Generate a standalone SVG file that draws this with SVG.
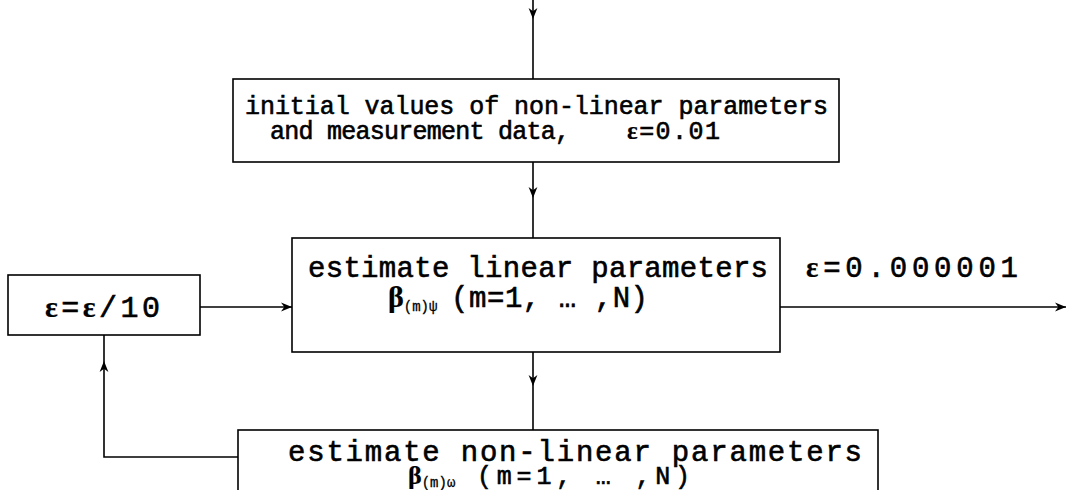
<svg xmlns="http://www.w3.org/2000/svg" width="1066" height="490" viewBox="0 0 1066 490">
  <style>
    .box { fill: #fff; stroke: #000; stroke-width: 1.6; }
    .wire { fill: none; stroke: #000; stroke-width: 1.6; }
    .t { font-family: "Liberation Mono", "DejaVu Sans Mono", monospace; fill: #000; stroke: #000; stroke-width: 0.6; }
    .g { font-family: "Liberation Serif", "DejaVu Serif", serif; font-weight: bold; stroke-width: 0.2; }
    .sub { font-size: 14px; stroke-width: 0.3; }
  </style>
  <defs>
    <marker id="ah" viewBox="0 0 10 10" refX="10" refY="5" markerWidth="11" markerHeight="11" markerUnits="userSpaceOnUse" orient="auto">
      <path d="M0,1 L10,5 L0,9 L3,5 Z" fill="#000"/>
    </marker>
  </defs>

  <!-- connectors -->
  <g id="connectors">
    <!-- entry from above -->
    <path class="wire" d="M533,0 V19" marker-end="url(#ah)"/>
    <path class="wire" d="M533,19 V79"/>
    <!-- initial values -> linear estimate -->
    <path class="wire" d="M533,162 V198" marker-end="url(#ah)"/>
    <path class="wire" d="M533,198 V238"/>
    <!-- epsilon update -> linear estimate -->
    <path class="wire" d="M200,307 H292" marker-end="url(#ah)"/>
    <!-- exit, converged -->
    <path class="wire" d="M780,307 H1066" marker-end="url(#ah)"/>
    <!-- linear -> non-linear estimate -->
    <path class="wire" d="M533,352 V386" marker-end="url(#ah)"/>
    <path class="wire" d="M533,386 V430"/>
    <!-- feedback loop -->
    <path class="wire" d="M238,457 H104 V361" marker-end="url(#ah)"/>
    <path class="wire" d="M104,361 V335"/>
  </g>

  <g id="init">
    <rect class="box" x="233" y="79" width="606" height="83"/>
    <text class="t" x="245" y="114" font-size="25" textLength="583" lengthAdjust="spacing">initial values of non-linear parameters</text>
    <text class="t" x="270" y="139" font-size="25" textLength="300" lengthAdjust="spacing">and measurement data,</text>
    <text class="t" x="627" y="139" font-size="25" textLength="93" lengthAdjust="spacing"><tspan class="g">ε</tspan>=0.01</text>
  </g>

  <g id="linear">
    <rect class="box" x="292" y="238" width="488" height="114"/>
    <text class="t" x="308" y="277" font-size="29" textLength="460" lengthAdjust="spacing">estimate linear parameters</text>
    <text class="t" x="388" y="307" font-size="30"><tspan class="g">β</tspan><tspan class="sub" dy="4">(m)ψ</tspan></text>
    <text class="t" x="451" y="307" font-size="29" textLength="197" lengthAdjust="spacing">(m=1, … ,N)</text>
  </g>

  <g id="eps-update">
    <rect class="box" x="8" y="275" width="192" height="60"/>
    <text class="t" x="45" y="317" font-size="30" textLength="115" lengthAdjust="spacing"><tspan class="g">ε</tspan>=<tspan class="g">ε</tspan>/10</text>
  </g>

  <g id="eps-final">
    <text class="t" x="806" y="277" font-size="29" textLength="212" lengthAdjust="spacing"><tspan class="g">ε</tspan>=0.000001</text>
  </g>

  <g id="nonlinear">
    <rect class="box" x="238" y="430" width="640" height="80"/>
    <text class="t" x="288" y="461" font-size="29" textLength="574" lengthAdjust="spacing">estimate non-linear parameters</text>
    <text class="t" x="408" y="484" font-size="26"><tspan class="g">β</tspan><tspan class="sub" dy="3">(m)ω</tspan></text>
    <text class="t" x="477" y="484" font-size="25" textLength="213" lengthAdjust="spacing">(m=1, … ,N)</text>
  </g>
</svg>
